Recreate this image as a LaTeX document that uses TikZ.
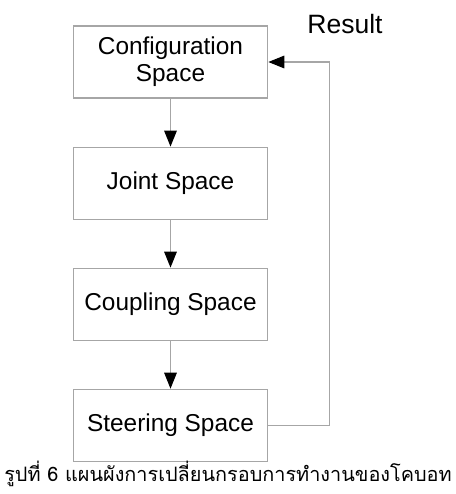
\documentclass[tikz,border=0pt]{standalone}
\usepackage{fontspec}
\setmainfont{Liberation Sans}
\newfontfamily\thaifont[Script=Thai]{Loma}
\usetikzlibrary{arrows.meta, positioning}

\begin{document}
\begin{tikzpicture}[
        x=0.75pt, y=-0.75pt,
        node distance=36pt,
        block/.style={
            rectangle,
            draw=gray!70,
            line width=0.8pt,
            minimum width=146pt,
            minimum height=54pt,
            text centered,
            align=center,
            font=\fontsize{18.3}{20.3}\selectfont
        },
        line/.style={draw=gray!70, line width=0.8pt, -{Triangle[length=12pt, width=9.5pt, black]}}
    ]
        \useasboundingbox (0,0) rectangle (456,494);
        % nodes
        \node [block] (config) at (170.5,62) {Configuration\\Space};
        \node [block, below=of config] (joint) {Joint Space};
        \node [block, below=of joint] (coupling) {Coupling Space};
        \node [block, below=of coupling] (steering) {Steering Space};
        \node [anchor=base, font=\fontsize{19.9}{22}\selectfont] (result) at (345,33) {Result};
        \node [anchor=base, font=\thaifont\fontsize{14.9}{16}\selectfont] (caption) at (228,481) {รูปที่ 6 แผนผังการเปลี่ยนกรอบการทำงานของโคบอท};

        % paths
        \path [line] (config) -- (joint);
        \path [line] (joint) -- (coupling);
        \path [line] (coupling) -- (steering);
        \path [line] (steering.east) -- ++(61,0) |- (config.east);
    \end{tikzpicture}
\end{document}
